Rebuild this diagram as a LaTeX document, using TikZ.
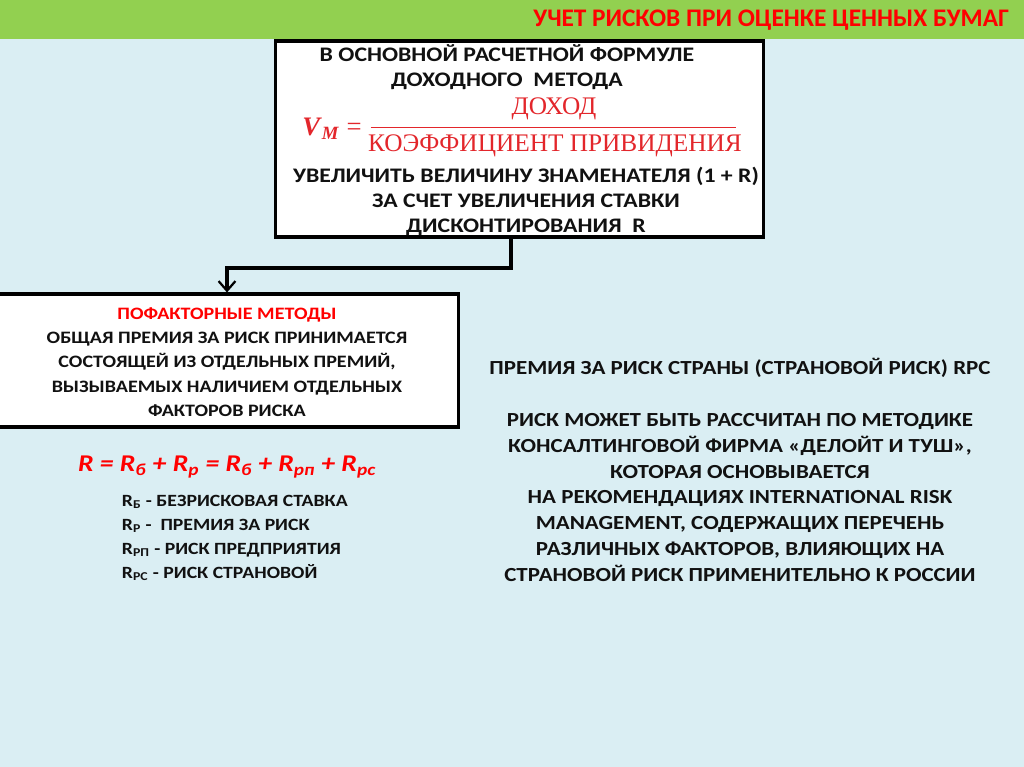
\documentclass[tikz,border=0pt]{standalone}
\usepackage{amsmath}
\usepackage{fontspec}
\setmainfont{Carlito}[FakeStretch=1.15]
\newfontfamily\titlefont{Carlito}
\newfontfamily\serifcyr{Liberation Serif}
\usepackage{xcolor}
\usepackage{tikz}
\usetikzlibrary{arrows.meta, positioning, calc}

\definecolor{barGreen}{HTML}{92D050}
\definecolor{paleBlue}{HTML}{DAEEF3}
\definecolor{titleRed}{HTML}{FF0000}
\definecolor{formulaRed}{HTML}{E3262B}
\definecolor{inkBlack}{HTML}{111111}

\begin{document}
\begin{tikzpicture}[
	x=0.025cm, y=-0.025cm,
	>={Straight Barb[length=2.4mm, width=4.2mm, line width=1.6pt]},
	box/.style={rectangle, draw, line width=2.2pt, fill=white},
	plain/.style={align=center, text=inkBlack, font=\bfseries\fontsize{14.2}{18.4}\selectfont},
	boxtext/.style={align=center, text=inkBlack, font=\bfseries\fontsize{14.7}{17.8}\selectfont},
	serif/.style={text=formulaRed, inner sep=0pt, font=\serifcyr\fontsize{18}{20}\selectfont},
	legend/.style={align=left, text=inkBlack, font=\bfseries\fontsize{12.2}{17}\selectfont}
	]
	
	% Background and title bar
	\useasboundingbox (0,0) rectangle (1024,767);
	\fill[paleBlue] (0,0) rectangle (1024,767);
	\fill[barGreen] (0,0) rectangle (1024,39.5);
	\node[anchor=east, text=titleRed, font=\titlefont\bfseries\fontsize{18}{20}\selectfont] (title) at (1014,20) {УЧЕТ РИСКОВ ПРИ ОЦЕНКЕ ЦЕННЫХ БУМАГ};
	
	% Formula box
	\node[box, minimum width=12.175cm, minimum height=4.9cm] (formulabox) at (519.5,139) {};
	\node[boxtext] (intro) at (507,67) {В ОСНОВНОЙ РАСЧЕТНОЙ ФОРМУЛЕ\\ДОХОДНОГО~ МЕТОДА};
	\node[serif] (income) at (554,109) {ДОХОД};
	\node[serif] (coef) at (555,146) {КОЭФФИЦИЕНТ ПРИВИДЕНИЯ};
	\draw[formulaRed, line width=0.9pt] ($(coef.north west)+(3,-7)$) -- ($(coef.north east)+(-6,-7)$);
	\node[serif, anchor=east, font=\serifcyr\fontsize{19}{20}\selectfont] (vm) at ($(coef.north west)+(-6,-6)$) {\textbf{\textit{V}\textsubscript{\textit{M}}} =};
	\node[boxtext] (increase) at (526,201) {УВЕЛИЧИТЬ ВЕЛИЧИНУ ЗНАМЕНАТЕЛЯ (1 + R)\\ЗА СЧЕТ УВЕЛИЧЕНИЯ СТАВКИ\\ДИСКОНТИРОВАНИЯ~ R};
	
	% Factor methods box
	\node[box, minimum width=11.55cm, minimum height=3.325cm] (factorbox) at (227,360.5) {};
	\node[plain, font=\bfseries\fontsize{12.4}{17.2}\selectfont] (factortext) at (227,362) {\textcolor{titleRed}{ПОФАКТОРНЫЕ МЕТОДЫ}\\ОБЩАЯ ПРЕМИЯ ЗА РИСК ПРИНИМАЕТСЯ\\СОСТОЯЩЕЙ ИЗ ОТДЕЛЬНЫХ ПРЕМИЙ,\\ВЫЗЫВАЕМЫХ НАЛИЧИЕМ ОТДЕЛЬНЫХ\\ФАКТОРОВ РИСКА};
	
	% Connector
	\coordinate (elbow) at (511,268);
	\draw[line width=2.2pt, ->] (formulabox.south -| elbow) -- (elbow) -| (factorbox.north);
	
	% Risk formula and legend
	\node[text=titleRed, font=\bfseries\itshape\fontsize{17.1}{20}\selectfont] (riskformula) at (227,467) {R = R\textsubscript{б} + R\textsubscript{р} = R\textsubscript{б} + R\textsubscript{рп} + R\textsubscript{рс}};
	\node[legend, anchor=west] (legend) at (117,538) {R\textsubscript{Б} - БЕЗРИСКОВАЯ СТАВКА\\R\textsubscript{Р} -~ ПРЕМИЯ ЗА РИСК\\R\textsubscript{РП} - РИСК ПРЕДПРИЯТИЯ\\R\textsubscript{РС} - РИСК СТРАНОВОЙ};
	
	% Country risk
	\node[plain] (countryrisk) at (740,470) {ПРЕМИЯ ЗА РИСК СТРАНЫ (СТРАНОВОЙ РИСК) RPC\\[18.4pt]РИСК МОЖЕТ БЫТЬ РАССЧИТАН ПО МЕТОДИКЕ\\КОНСАЛТИНГОВОЙ ФИРМА «ДЕЛОЙТ И ТУШ»,\\КОТОРАЯ ОСНОВЫВАЕТСЯ\\НА РЕКОМЕНДАЦИЯХ INTERNATIONAL RISK\\MANAGEMENT, СОДЕРЖАЩИХ ПЕРЕЧЕНЬ\\РАЗЛИЧНЫХ ФАКТОРОВ, ВЛИЯЮЩИХ НА\\СТРАНОВОЙ РИСК ПРИМЕНИТЕЛЬНО К РОССИИ};
	
\end{tikzpicture}
\end{document}
